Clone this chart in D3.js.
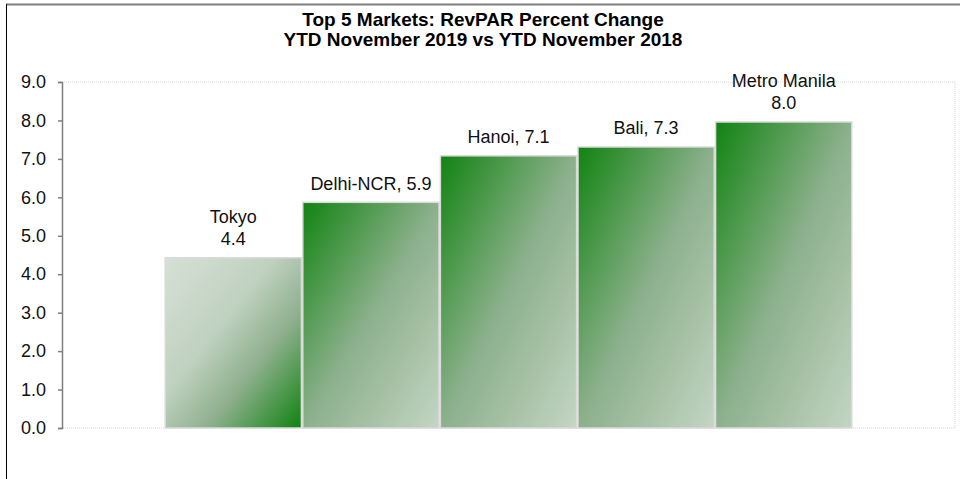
<!DOCTYPE html>
<html>
<head>
<meta charset="utf-8">
<script src="https://cdn.jsdelivr.net/npm/d3@7"></script>
<style>
  body { margin: 0; background: #fff; }
  svg { display: block; font-family: "Liberation Sans", Arial, sans-serif; }
</style>
</head>
<body>
<div id="chart"></div>
<script>
const titleLines = ["Top 5 Markets: RevPAR Percent Change", "YTD November 2019 vs YTD November 2018"];
const markets = ["Tokyo", "Delhi-NCR", "Hanoi", "Bali", "Metro Manila"];
const revparChange = [4.43, 5.87, 7.08, 7.31, 7.96];
const stackedLabel = [true, false, false, false, true];
const yTicks = [0, 1, 2, 3, 4, 5, 6, 7, 8, 9];

const width = 960, height = 479;
const plot = { left: 62, right: 955, top: 82, bottom: 428 };
const fmt = d3.format(".1f");

const svg = d3.select("#chart").append("svg")
  .attr("width", width)
  .attr("height", height);

// chart frame
svg.append("line")
  .attr("x1", 6).attr("x2", width).attr("y1", 4.5).attr("y2", 4.5)
  .attr("stroke", "#7f7f7f").attr("stroke-width", 2);
svg.append("line")
  .attr("x1", 6.5).attr("x2", 6.5).attr("y1", 4).attr("y2", height)
  .attr("stroke", "#000").attr("stroke-width", 1);

// gradients
const defs = svg.append("defs");
const dark = "#118311", mid = "#8cb08c", light = "#c4d5c4";
const gUp = defs.append("linearGradient").attr("id", "gUp")
  .attr("x1", 0).attr("y1", 0).attr("x2", 1).attr("y2", 1);
gUp.append("stop").attr("offset", 0).attr("stop-color", dark);
gUp.append("stop").attr("offset", 0.5).attr("stop-color", mid);
gUp.append("stop").attr("offset", 1).attr("stop-color", light);
const gDown = defs.append("linearGradient").attr("id", "gDown")
  .attr("x1", 0).attr("y1", 0).attr("x2", 1).attr("y2", 1);
gDown.append("stop").attr("offset", 0).attr("stop-color", "#d6e0d6");
gDown.append("stop").attr("offset", 0.4).attr("stop-color", "#c0d1c0");
gDown.append("stop").attr("offset", 0.65).attr("stop-color", "#8fb08f");
gDown.append("stop").attr("offset", 1).attr("stop-color", "#108210");

const x = d3.scaleBand()
  .domain(markets)
  .range([plot.left, plot.right])
  .paddingInner(0.01)
  .paddingOuter(0.75);

const y = d3.scaleLinear()
  .domain([0, 9])
  .range([plot.bottom, plot.top]);

// plot area border (dotted)
svg.append("path")
  .attr("d", `M${plot.left},${plot.top}H${plot.right}V${plot.bottom}H${plot.left}`)
  .attr("fill", "none")
  .attr("stroke", "#d4d4d4")
  .attr("stroke-width", 1)
  .attr("stroke-dasharray", "1,1");

// title
svg.append("text")
  .attr("x", 483).attr("y", 26)
  .attr("text-anchor", "middle")
  .attr("font-size", 19).attr("font-weight", "bold")
  .selectAll("tspan")
  .data(titleLines)
  .enter().append("tspan")
  .attr("x", 483)
  .attr("dy", (d, i) => i === 0 ? 0 : 20)
  .text(d => d);

// bars
const data = markets.map((m, i) => ({ name: m, value: revparChange[i], stacked: stackedLabel[i] }));

svg.selectAll(".bar")
  .data(data)
  .enter().append("rect")
  .attr("class", "bar")
  .attr("x", d => x(d.name))
  .attr("y", d => y(d.value))
  .attr("width", x.bandwidth())
  .attr("height", d => y(0) - y(d.value))
  .attr("fill", (d, i) => i === 0 ? "url(#gDown)" : "url(#gUp)")
  .attr("stroke", "#dadada")
  .attr("stroke-width", 1.5);

// labels
const labels = svg.selectAll(".label")
  .data(data)
  .enter().append("text")
  .attr("class", "label")
  .attr("text-anchor", "middle")
  .attr("font-size", 18)
  .attr("fill", "#111");

labels.each(function(d) {
  const cx = x(d.name) + x.bandwidth() / 2;
  const base = y(d.value) - 12.5;
  const lines = d.stacked ? [d.name, fmt(d.value)] : [`${d.name}, ${fmt(d.value)}`];
  d3.select(this).selectAll("tspan")
    .data(lines)
    .enter().append("tspan")
    .attr("x", cx)
    .attr("y", (t, i) => base - (lines.length - 1 - i) * 22)
    .text(t => t);
});

// y axis
const yAxis = svg.append("g")
  .attr("transform", `translate(${plot.left},0)`)
  .call(d3.axisLeft(y).tickValues(yTicks).tickFormat(fmt).tickSize(4).tickPadding(12));
yAxis.select(".domain").attr("stroke", "#7f7f7f").attr("stroke-width", 1.5);
yAxis.selectAll(".tick line").attr("stroke", "#7f7f7f").attr("stroke-width", 1.5);
yAxis.selectAll(".tick text")
  .attr("font-size", 18)
  .attr("font-family", "'Liberation Sans', Arial, sans-serif")
  .attr("fill", "#111");
</script>
</body>
</html>
